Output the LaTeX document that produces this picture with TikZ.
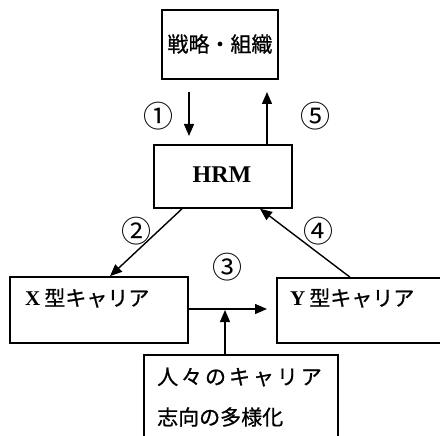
\documentclass[tikz,border=0pt]{standalone}
\usepackage{fontspec}
\setmainfont{Liberation Serif}
\newfontfamily\jp{Noto Sans CJK JP}[FakeBold=0.8]
\newfontfamily\jpw{Noto Sans CJK JP}[FakeBold=0.8,LetterSpace=14]
\newfontfamily\circfont{Noto Sans CJK JP}
\usetikzlibrary{arrows.meta,calc}
\begin{document}
\begin{tikzpicture}[x=1pt,y=-1pt,
 box/.style={draw,line width=1.6pt,rectangle,inner sep=0pt},
 arr/.style={line width=1.4pt,-{Triangle[length=12pt,width=10pt]}},
 jtxt/.style={font=\jp\fontsize{21}{24}\selectfont,inner sep=0pt},
 jtxtw/.style={font=\jpw\fontsize{21}{24}\selectfont,inner sep=0pt},
 num/.style={font=\circfont\fontsize{30}{32}\selectfont,inner sep=0pt}]
\clip (0,0) rectangle (440,436);
% boxes
\node[box,minimum width=116pt,minimum height=69pt] (top) at (220,44.5) {};
\node[box,minimum width=138pt,minimum height=63pt] (hrm) at (223,176.5) {};
\node[box,minimum width=178pt,minimum height=66pt] (xb) at (99,310) {};
\node[box,minimum width=168pt,minimum height=65pt] (yb) at (361,310.5) {};
\node[box,minimum width=194pt,minimum height=90pt] (bb) at (241,400) {};
% texts
\node[jtxt] (toptxt) at (220,44) {戦略・組織};
\node[font=\bfseries\fontsize{24}{26}\selectfont,inner sep=0pt] (hrmtxt) at (222,175) {HRM};
\node[jtxt,anchor=west] (xtxt) at (25,298) {{\rmfamily\bfseries X}\hspace{4pt}型キャリア};
\node[jtxt,anchor=west] (ytxt) at (290,298) {{\rmfamily\bfseries Y}\hspace{4pt}型キャリア};
\node[jtxtw,anchor=west] (b1) at (157,377) {人々のキャリア};
\node[jtxt,anchor=west] (b2) at (157,417) {志向の多様化};
% numbers
\node[num] (n1) at (158,116) {①};
\node[num] (n5) at (315,116) {⑤};
\node[num] (n2) at (136,231) {②};
\node[num] (n4) at (318,231) {④};
\node[num] (n3) at (227,267) {③};
% arrow end points
\coordinate (a1s) at (189,92);
\coordinate (a1e) at (189,136);
\coordinate (a5s) at (hrm.north -| 267,0);
\coordinate (a5e) at (267,92);
\coordinate (a2s) at (hrm.south -| 182,0);
\coordinate (a2e) at (xb.north -| 110,0);
\coordinate (a4s) at (yb.north -| 350,0);
\coordinate (a4e) at (hrm.south -| 260,0);
\coordinate (axs) at (xb.east |- 0,309);
\coordinate (axe) at (267,309);
\coordinate (abs) at (bb.north -| 225,0);
\coordinate (abe) at (225,310);
% arrows
\draw[arr] (a1s) -- (a1e);
\draw[arr] (a5s) -- (a5e);
\draw[arr] (a2s) -- (a2e);
\draw[arr] (a4s) -- (a4e);
\draw[arr] (axs) -- (axe);
\draw[arr] (abs) -- (abe);
\end{tikzpicture}
\end{document}
